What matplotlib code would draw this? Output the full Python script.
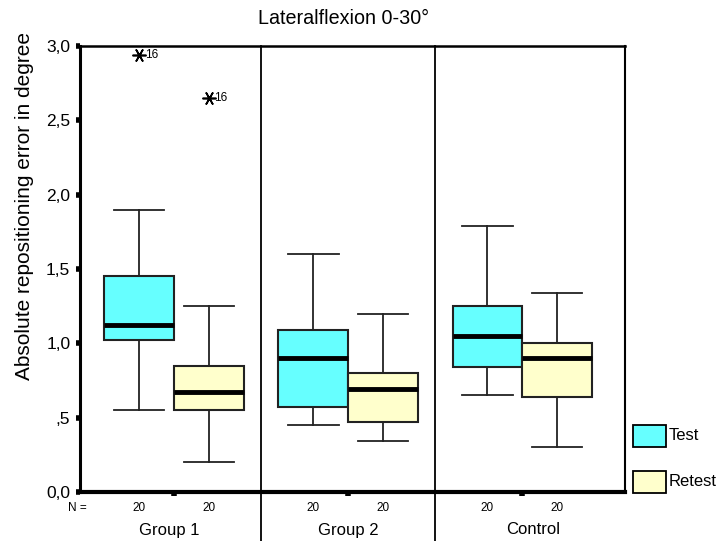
import matplotlib
matplotlib.use("Agg")
import matplotlib.pyplot as plt
from matplotlib.patches import Rectangle

plt.rcParams['font.family'] = ['Liberation Sans', 'DejaVu Sans']

groups = ["Group 1", "Group 2", "Control"]
n_values = [20, 20, 20, 20, 20, 20]
# per box: whislo, q1, median, q3, whishi  (Test, Retest for each group)
test_stats = [
    [0.55, 1.02, 1.12, 1.45, 1.90],
    [0.45, 0.57, 0.90, 1.09, 1.60],
    [0.65, 0.84, 1.05, 1.25, 1.79],
]
retest_stats = [
    [0.20, 0.55, 0.67, 0.85, 1.25],
    [0.34, 0.47, 0.69, 0.80, 1.20],
    [0.30, 0.64, 0.90, 1.00, 1.34],
]
test_outliers = [[2.94], [], []]
retest_outliers = [[2.65], [], []]
outlier_label = "16"
ytick_vals = [0.0, 0.5, 1.0, 1.5, 2.0, 2.5, 3.0]
ytick_labels = ["0,0", ",5", "1,0", "1,5", "2,0", "2,5", "3,0"]

test_color = "#66FFFF"
retest_color = "#FFFFCC"

fig = plt.figure(figsize=(7.16, 5.41), dpi=100)
ax = fig.add_axes([80/716, 1-492/541, (625-80)/716, (492-46)/541])

def mk(s, fl):
    return dict(whislo=s[0], q1=s[1], med=s[2], q3=s[3], whishi=s[4], fliers=fl)

width = 0.40
for i in range(3):
    c = i + 1
    for stats, fl, off, col in [(test_stats[i], test_outliers[i], -0.2, test_color),
                                (retest_stats[i], retest_outliers[i], 0.2, retest_color)]:
        bp = ax.bxp([mk(stats, fl)], positions=[c + off], widths=width,
                    capwidths=0.29, patch_artist=True, showfliers=True,
                    boxprops=dict(facecolor=col, edgecolor="#222222", linewidth=1.5),
                    whiskerprops=dict(color="#222222", linewidth=1.3),
                    capprops=dict(color="#222222", linewidth=1.3),
                    medianprops=dict(color="black", linewidth=3.5, solid_capstyle="butt"),
                    flierprops=dict(marker=(6, 2, 90), markersize=10, markeredgecolor="black",
                                    markeredgewidth=1.2, linestyle="none"))
        for v in fl:
            ax.annotate(outlier_label, (c + off, v), xytext=(4, 0), textcoords="offset points",
                        fontsize=8.5, va="center", ha="left")

ax.set_xlim(0.46, 3.59)
ax.set_ylim(0, 3.0)
ax.set_yticks(ytick_vals)
ax.set_yticklabels(ytick_labels, fontsize=12.5)
ax.set_xticks([1, 2, 3])
ax.set_xticklabels([])
ax.tick_params(axis="y", direction="out", length=3, width=4, pad=4)
ax.tick_params(axis="x", direction="out", length=3, width=4)

ax.spines["left"].set_linewidth(2.2)
ax.spines["bottom"].set_linewidth(3)
ax.spines["top"].set_linewidth(1.8)
ax.spines["right"].set_linewidth(1.5)

for xs in [1.5, 2.5]:
    ax.axvline(xs, ymin=-49/446, ymax=1, color="black", linewidth=1.3, clip_on=False)

# N labels
ny = -16/446
ax.text(0.50, ny, "N =", fontsize=8.5, ha="right", va="center", transform=ax.get_xaxis_transform())
pos = []
for i in range(3):
    pos += [i + 1 - 0.2, i + 1 + 0.2]
for p, n in zip(pos, n_values):
    ax.text(p, ny, str(n), fontsize=8.5, ha="center", va="center",
            transform=ax.get_xaxis_transform())
gx = [0.97, 2.0, 3.06]
for g, x in zip(groups, gx):
    ax.text(x, -38/446, g, fontsize=12, ha="center", va="center",
            transform=ax.get_xaxis_transform())

ax.set_ylabel("Absolute repositioning error in degree", fontsize=15)
ax.yaxis.set_label_coords(-46/545, (492-206)/446)
fig.text(343/716, 1-19/541, "Lateralflexion 0-30°", fontsize=14.2, ha="center", va="center")

# legend
for ytop, col, lab in [(425, test_color, "Test"), (471, retest_color, "Retest")]:
    fig.patches.append(Rectangle((633/716, 1-(ytop+22)/541), 33/716, 22/541,
                                 facecolor=col, edgecolor="black", linewidth=1.3,
                                 transform=fig.transFigure))
    fig.text(669/716, 1-(ytop+11)/541, lab, fontsize=12, ha="left", va="center")

fig.savefig("out.png", dpi=100)
